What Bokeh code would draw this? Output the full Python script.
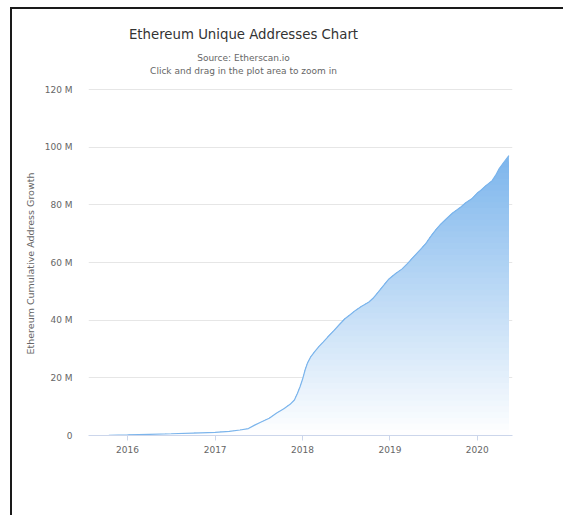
import numpy as np
import pandas as pd
from bokeh.plotting import figure
from bokeh.models import Range1d, FixedTicker, CustomJSTickFormatter, Label, Title
from bokeh.embed import file_html
from bokeh.resources import INLINE

# ---------------- data ----------------
dates = [
    "2015-07-30", "2015-10-15", "2016-01-01", "2016-04-01", "2016-07-01", "2016-10-01",
    "2017-01-01", "2017-03-01", "2017-04-15", "2017-05-20", "2017-06-15", "2017-07-10",
    "2017-08-15", "2017-09-15", "2017-10-15", "2017-11-10", "2017-11-28", "2017-12-10",
    "2017-12-22", "2018-01-01", "2018-01-12", "2018-01-22", "2018-02-05", "2018-02-20",
    "2018-03-10", "2018-03-28", "2018-04-20", "2018-05-12", "2018-06-05", "2018-06-27",
    "2018-07-20", "2018-08-10", "2018-09-05", "2018-10-04", "2018-10-25", "2018-11-13",
    "2018-12-05", "2018-12-28", "2019-01-25", "2019-02-21", "2019-03-15", "2019-04-08",
    "2019-05-05", "2019-05-30", "2019-06-20", "2019-07-09", "2019-08-01", "2019-08-25",
    "2019-09-20", "2019-10-23", "2019-11-15", "2019-12-09", "2020-01-01", "2020-01-15",
    "2020-02-05", "2020-03-03", "2020-03-18", "2020-04-01", "2020-04-20", "2020-05-12",
]
addresses_m = [
    0.0, 0.08, 0.2, 0.38, 0.6, 0.85,
    1.1, 1.4, 1.9, 2.4, 3.6, 4.6,
    6.0, 7.8, 9.3, 10.8, 12.3, 14.5,
    17.0, 19.5, 22.8, 25.2, 27.4, 29.0,
    30.8, 32.4, 34.5, 36.4, 38.6, 40.5,
    42.0, 43.4, 44.8, 46.2, 47.8, 49.7,
    52.0, 54.3, 56.2, 57.8, 59.6, 61.8,
    64.2, 66.5, 69.0, 71.1, 73.3, 75.2,
    77.2, 79.2, 80.8, 82.1, 84.1, 85.0,
    86.6, 88.4, 90.3, 92.5, 94.7, 97.1,
]
title_text = "Ethereum Unique Addresses Chart"
subtitle_lines = ["Source: Etherscan.io", "Click and drag in the plot area to zoom in"]
y_axis_title = "Ethereum Cumulative Address Growth"
y_ticks = [0, 20, 40, 60, 80, 100, 120]
x_tick_years = [2016, 2017, 2018, 2019, 2020]

# ---------------- figure ----------------
x = pd.to_datetime(dates)
y = np.array(addresses_m)

FONT = "DejaVu Sans"
x0 = pd.Timestamp("2015-07-22")
x1 = pd.Timestamp("2020-05-27")

p = figure(
    width=553, height=508,
    x_axis_type="datetime",
    x_range=Range1d(x0, x1),
    y_range=Range1d(0, 145),
    output_backend="svg", toolbar_location=None,
    min_border_left=76, min_border_right=53, min_border_top=8, min_border_bottom=82,
)
p.styles = {"border-left": "2px solid #1a1a1a", "border-top": "2px solid #1a1a1a",
            "margin-left": "10px", "margin-top": "7px"}
p.outline_line_color = None
p.background_fill_color = "white"
p.border_fill_color = "white"

# gradient area (banded)
base = np.array([124, 181, 236])
vmax = y.max()
N = 48
for k in range(N, 0, -1):
    top = vmax * k / N
    a = (k - 0.5) / N
    c = (255 * (1 - a) + base * a).round().astype(int)
    p.varea(x=x, y1=0, y2=np.minimum(y, top), fill_color="#%02x%02x%02x" % tuple(c),
            fill_alpha=1.0)
p.line(x, y, line_color="#7cb5ec", line_width=1.2)

# axes
xt = [pd.Timestamp(f"{yr}-01-01").timestamp() * 1000 for yr in x_tick_years]
p.xaxis.ticker = FixedTicker(ticks=xt)
p.xaxis.formatter = CustomJSTickFormatter(code="return new Date(tick).getUTCFullYear().toString();")
p.xaxis.axis_line_color = "#ccd6eb"
p.xaxis.major_tick_line_color = "#ccd6eb"
p.xaxis.major_tick_out = 5
p.xaxis.major_tick_in = 0
p.xaxis.minor_tick_line_color = None
p.xaxis.major_label_standoff = 5
p.xaxis.major_label_text_font = FONT
p.xaxis.major_label_text_font_size = "9px"
p.xaxis.major_label_text_color = "#666666"

p.yaxis.ticker = FixedTicker(ticks=y_ticks)
p.yaxis.formatter = CustomJSTickFormatter(code="return tick == 0 ? '0' : tick + ' M';")
p.yaxis.axis_line_color = None
p.yaxis.major_tick_line_color = None
p.yaxis.minor_tick_line_color = None
p.yaxis.major_label_standoff = 10
p.yaxis.major_label_text_font = FONT
p.yaxis.major_label_text_font_size = "9px"
p.yaxis.major_label_text_color = "#666666"

p.xgrid.grid_line_color = None
p.ygrid.grid_line_color = "#e6e6e6"
p.ygrid.ticker = FixedTicker(ticks=y_ticks)

# y axis title placed beside the 0..120 M part of the frame
p.add_layout(Title(text=y_axis_title, align="left", offset=81, standoff=12,
                   text_font=FONT, text_font_size="9.5px", text_font_style="normal",
                   text_color="#666666"), "left")

# titles inside the (extended) frame, in data coordinates
xc = (x0 + (x1 - x0) * 0.3656).timestamp() * 1000
for txt, yy, size, col in [(title_text, 139.1, "13.3px", "#333333"),
                           (subtitle_lines[0], 131.0, "9px", "#666666"),
                           (subtitle_lines[1], 126.4, "9px", "#666666")]:
    p.add_layout(Label(x=xc, y=yy, text=txt, text_align="center", text_baseline="middle",
                       text_font=FONT, text_font_size=size, text_color=col))

open("out.html", "w").write(file_html(p, INLINE))
